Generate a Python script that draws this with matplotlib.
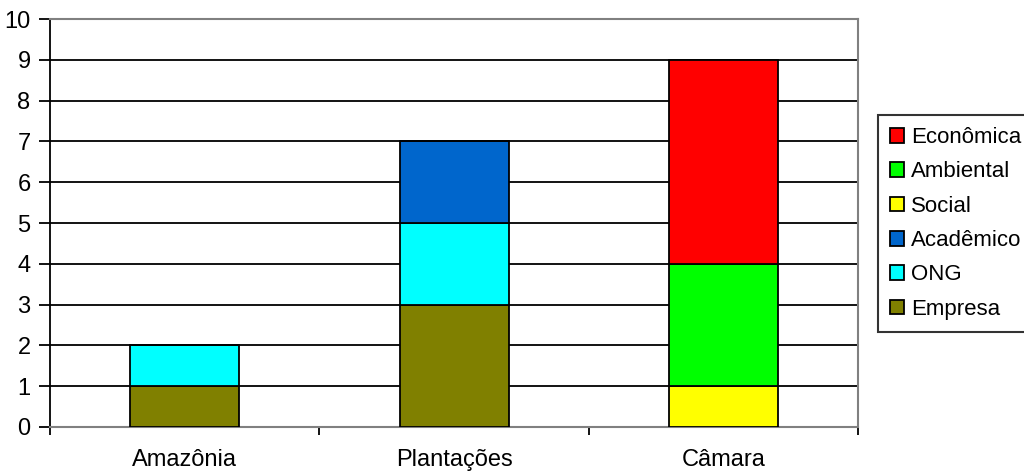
import matplotlib
matplotlib.use("Agg")
import matplotlib.pyplot as plt
import numpy as np

plt.rcParams['font.family'] = ['Liberation Sans', 'DejaVu Sans']

categories = ["Amazônia", "Plantações", "Câmara"]
series_names = ["Empresa", "ONG", "Acadêmico", "Social", "Ambiental", "Econômica"]
empresa = [1, 3, 0]
ong = [1, 2, 0]
academico = [0, 2, 0]
social = [0, 0, 1]
ambiental = [0, 0, 3]
economica = [0, 0, 5]
series_values = [empresa, ong, academico, social, ambiental, economica]
colors = ["#808000", "#00FFFF", "#0066CC", "#FFFF00", "#00FF00", "#FF0000"]
y_ticks = list(range(0, 11))

fig = plt.figure(figsize=(10.24, 4.76), dpi=100)
ax = fig.add_axes([0.0488, 0.103, 0.7895, 0.857])

x = np.arange(len(categories))
bottom = np.zeros(len(categories))
handles = []
for name, vals, col in zip(series_names, series_values, colors):
    vals = np.array(vals, dtype=float)
    b = ax.bar(x, vals, width=0.405, bottom=bottom, color=col,
               edgecolor="black", linewidth=1.3, label=name, zorder=3)
    handles.append(b)
    bottom += vals

ax.set_xlim(-0.5, len(categories) - 0.5)
ax.set_ylim(0, 10)
ax.set_yticks(y_ticks)
ax.yaxis.grid(True, color="black", linewidth=1.3, zorder=1)
ax.set_axisbelow(True)

# category boundaries carry the ticks; labels sit between them
ax.set_xticks(np.arange(-0.5, len(categories), 1.0))
ax.set_xticklabels([])
ax.set_xticks(x, minor=True)
ax.set_xticklabels(categories, minor=True)
ax.tick_params(axis="x", which="minor", length=0, pad=16, labelsize=17)
ax.tick_params(axis="x", which="major", length=6, width=1.3, direction="out")
ax.tick_params(axis="y", length=8, width=1.3, direction="out", labelsize=17, pad=6)

ax.spines["left"].set_color("black")
ax.spines["left"].set_linewidth(1.3)
for s in ["top", "right", "bottom"]:
    ax.spines[s].set_color("#808080")
    ax.spines[s].set_linewidth(1.5)

leg = fig.legend(handles=handles[::-1], labels=series_names[::-1],
                 loc="center left", bbox_to_anchor=(878 / 1024, 0.5305),
                 frameon=True, fancybox=False, edgecolor="black",
                 fontsize=16, handlelength=0.62, handleheight=0.62,
                 handletextpad=0.3, labelspacing=0.6, borderpad=0.55,
                 borderaxespad=0)
leg.get_frame().set_linewidth(1.5)

fig.savefig("out.png", dpi=100)
